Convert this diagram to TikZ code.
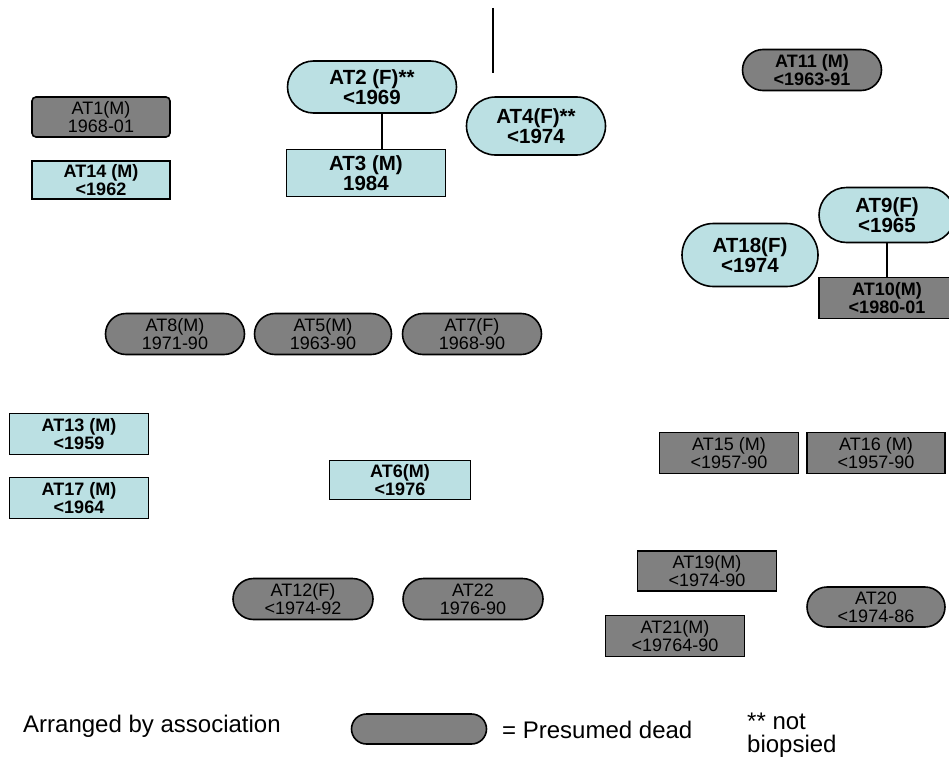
\documentclass[tikz,border=0pt]{standalone}
\usepackage{fontspec}
\setmainfont{Liberation Sans}
\usepackage{tikz}
\usetikzlibrary{shapes.misc}
\definecolor{alive}{HTML}{BBE0E3}
\definecolor{dead}{HTML}{808080}

\begin{document}
\begin{tikzpicture}[x=1pt,y=-1pt,
  every node/.style={inner sep=0pt, align=center, text=black},
  live/.style={draw, line width=1.6pt, fill=alive},
  gone/.style={draw, line width=1.6pt, fill=dead},
  pill/.style={rounded rectangle},
  sz/.style 2 args={minimum width=#1pt, minimum height=#2pt},
  small/.style={font=\fontsize{18}{18}\selectfont},
  smallb/.style={font=\fontsize{18}{18}\selectfont\bfseries},
  big/.style={font=\fontsize{20.5}{20}\selectfont\bfseries},
  legend/.style={font=\fontsize{24}{23}\selectfont}]
  \useasboundingbox (0,0) rectangle (949,760);

  % left column
  \node[gone, small, rounded corners=4pt, sz={138}{40}] (AT1) at (101,117) {AT1(M)\\1968-01};
  \node[live, smallb, sz={138}{38}] (AT14) at (101,180) {AT14 (M)\\<1962};
  \node[live, smallb, sz={139}{41}] (AT13) at (79,434) {AT13 (M)\\<1959};
  \node[live, smallb, sz={139}{41}] (AT17) at (79,498) {AT17 (M)\\<1964};

  % top group
  \node[live, big, pill, sz={169}{52}] (AT2) at (372,87) {AT2 (F)**\\<1969};
  \node[live, big, sz={159}{47}] (AT3) at (366,173) {AT3 (M)\\1984};
  \node[live, big, pill, sz={139}{58}] (AT4) at (536,126) {AT4(F)**\\<1974};
  \node[gone, smallb, pill, sz={139}{41}] (AT11) at (812,70) {AT11 (M)\\<1963-91};
  \node[live, big, pill, sz={136}{55}] (AT9) at (887,215) {AT9(F)\\<1965};
  \node[live, big, pill, sz={136}{63}] (AT18) at (750,255) {AT18(F)\\<1974};
  \node[gone, smallb, sz={136}{41}] (AT10) at (887,298) {AT10(M)\\<1980-01};

  \draw[line width=1.6pt] ([xshift=10pt]AT2.south) -- ([xshift=10pt]AT2.south |- AT3.north);
  \draw[line width=1.6pt] (AT9.south) -- (AT10.north);
  \coordinate (topend) at (493,8);
  \coordinate (topfoot) at (493,73);
  \draw[line width=1.6pt] (topend) -- (topfoot);

  % middle row
  \node[gone, small, pill, sz={139}{41}] (AT8) at (175,334) {AT8(M)\\1971-90};
  \node[gone, small, pill, sz={137}{41}] (AT5) at (323,334) {AT5(M)\\1963-90};
  \node[gone, small, pill, sz={139}{41}] (AT7) at (472,334) {AT7(F)\\1968-90};
  \node[live, smallb, sz={141}{39}] (AT6) at (400,480) {AT6(M)\\<1976};
  \node[gone, small, pill, sz={140}{41}] (AT12) at (303,599) {AT12(F)\\<1974-92};
  \node[gone, small, pill, sz={140}{41}] (AT22) at (473,599) {AT22\\1976-90};

  % right side
  \node[gone, small, sz={139}{41}] (AT15) at (729,453) {AT15 (M)\\<1957-90};
  \node[gone, small, sz={138}{41}] (AT16) at (876,453) {AT16 (M)\\<1957-90};
  \node[gone, small, sz={139}{40}] (AT19) at (707,571) {AT19(M)\\<1974-90};
  \node[gone, small, pill, sz={138}{40}] (AT20) at (876,607) {AT20\\<1974-86};
  \node[gone, small, sz={139}{41}] (AT21) at (675,636) {AT21(M)\\<19764-90};

  % legend
  \node[legend, anchor=base west] (arranged) at (23,732) {Arranged by association};
  \node[gone, pill, sz={135}{30}] (key) at (419,729) {};
  \node[legend, anchor=base west] (presumed) at (502,738) {= Presumed dead};
  \node[legend, anchor=north west, align=left] (biopsy) at (747,713) {** not\\biopsied};
\end{tikzpicture}
\end{document}
